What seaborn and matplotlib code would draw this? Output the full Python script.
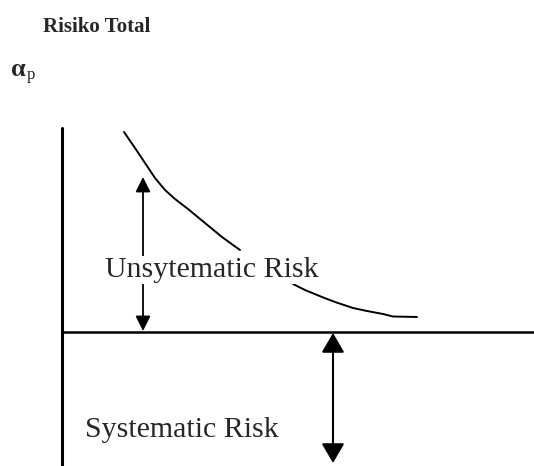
import numpy as np
import pandas as pd
import seaborn as sns
import matplotlib.pyplot as plt

# diagram drawn in a pixel-like coordinate frame (y grows downward)
curve_x_upper = [124, 135, 145, 155, 165, 175, 188, 205, 222, 233, 240]
curve_y_upper = [132, 148, 163, 178, 190, 199, 209, 223, 237, 245, 250]
curve_x_lower = [293, 305, 322, 335, 353, 367, 383, 393, 417]
curve_y_lower = [284, 290, 297, 302, 308, 311, 314, 316.5, 317]

axis_x = 62
axis_top = 128
baseline_y = 332
frame_w, frame_h = 534, 466

unsys_arrow = (143, 177, 331)   # x, top tip, bottom tip
sys_arrow = (333, 333, 463)

title_text = "Risiko Total"
alpha_text = "α"
alpha_sub = "p"
unsys_text = "Unsytematic Risk"
sys_text = "Systematic Risk"

sns.set_theme(style="white")
plt.rcParams["font.family"] = ["Liberation Serif", "DejaVu Serif"]

fig = plt.figure(figsize=(5.34, 4.66), dpi=100)
ax = fig.add_axes([0, 0, 1, 1])

# total-risk curve (two pieces, broken around the label)
df = pd.DataFrame({
    "x": curve_x_upper + curve_x_lower,
    "y": curve_y_upper + curve_y_lower,
    "seg": ["a"] * len(curve_x_upper) + ["b"] * len(curve_x_lower),
})
sns.lineplot(data=df, x="x", y="y", units="seg", estimator=None, sort=False,
             color="black", lw=1.4, ax=ax, legend=False)
ax.set_xlim(0, frame_w)
ax.set_ylim(frame_h, 0)
ax.axis("off")

# axes of the diagram
ax.plot([axis_x, axis_x], [axis_top, frame_h], color="black", lw=2.2)
ax.plot([axis_x, frame_w], [baseline_y, baseline_y], color="black", lw=1.8)

# double-headed arrows
x, y0, y1 = unsys_arrow
ax.annotate("", xy=(x, y0), xytext=(x, y1),
            arrowprops=dict(arrowstyle="<|-|>,head_length=0.6,head_width=0.3",
                            mutation_scale=15, color="black", lw=1.3,
                            shrinkA=0, shrinkB=0))
x, y0, y1 = sys_arrow
ax.annotate("", xy=(x, y0), xytext=(x, y1),
            arrowprops=dict(arrowstyle="<|-|>,head_length=0.6,head_width=0.35",
                            mutation_scale=20, color="black", lw=1.5,
                            shrinkA=0, shrinkB=0))

# labels
ax.text(43, 32, title_text, fontsize=15, fontweight="bold", ha="left", va="baseline")
ax.text(11, 76, alpha_text, fontsize=19, fontweight="bold", ha="left", va="baseline")
ax.text(27, 79, alpha_sub, fontsize=12, ha="left", va="baseline")
ax.text(105, 277, unsys_text, fontsize=21.5, ha="left", va="baseline", zorder=5,
        bbox=dict(boxstyle="square,pad=0.05", fc="white", ec="none"))
ax.text(85, 437, sys_text, fontsize=21.5, ha="left", va="baseline")

plt.savefig("out.png", dpi=100)
